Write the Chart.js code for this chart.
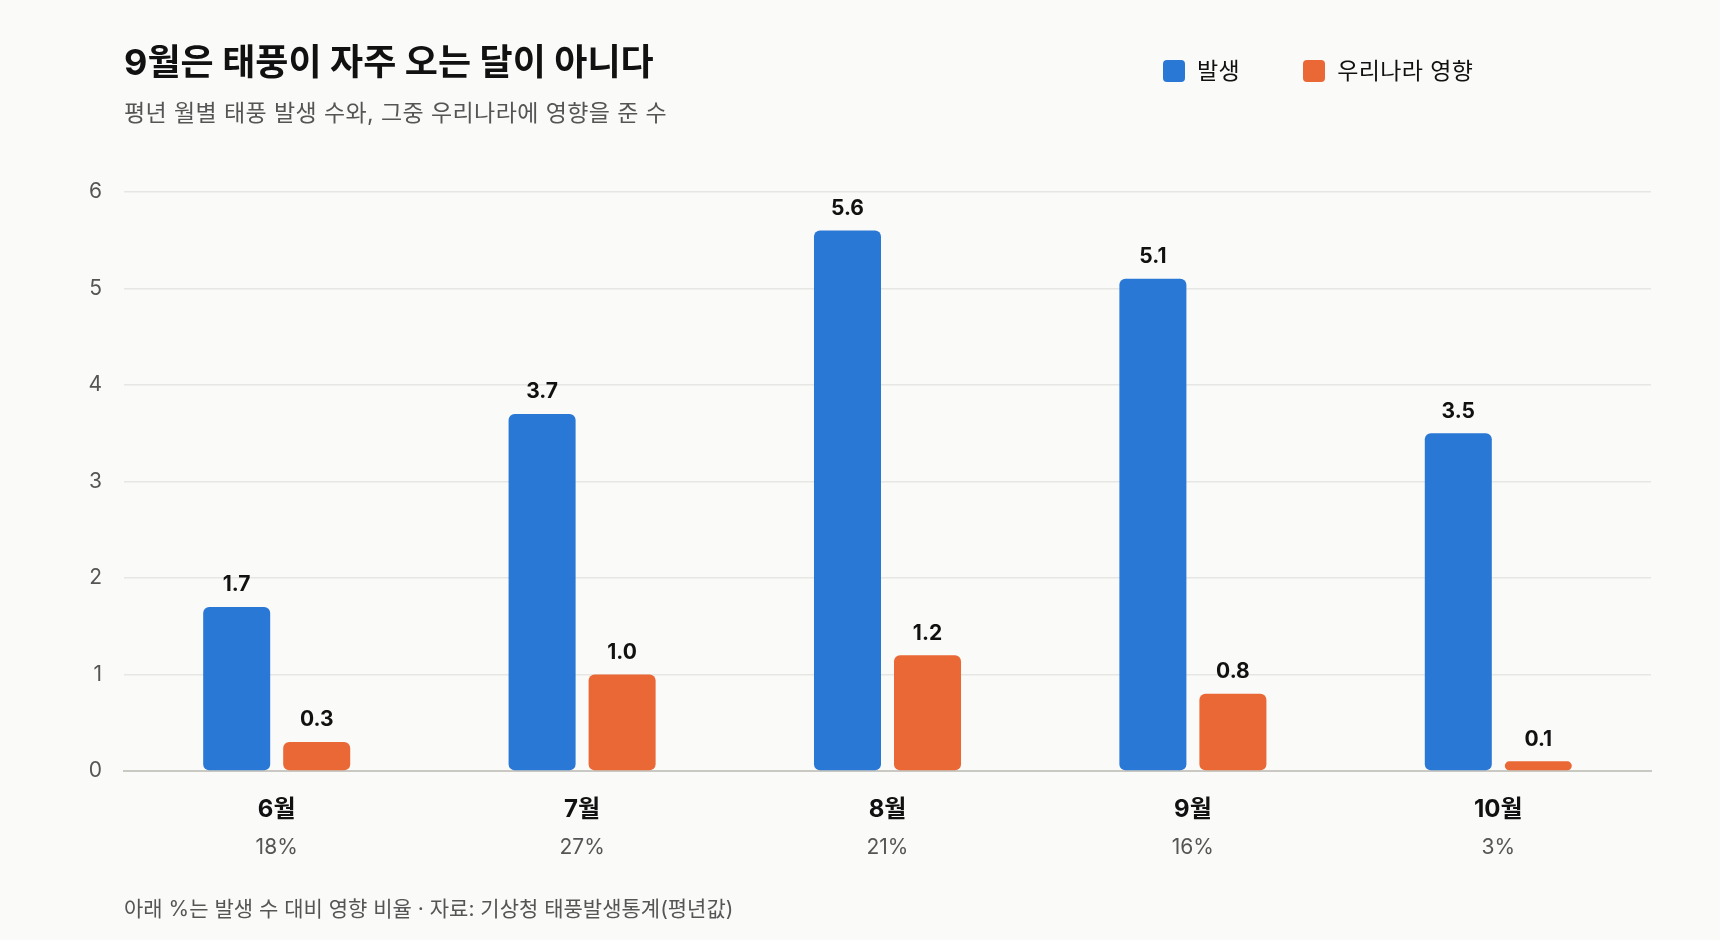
<!DOCTYPE html>
<html lang="ko">
<head>
<meta charset="utf-8">
<script src="https://cdn.jsdelivr.net/npm/chart.js@4"></script>
<style>
  html, body { margin:0; padding:0; background:#fafaf8; }
  body { width:1720px; height:940px; position:relative; overflow:hidden;
         font-family: Inter, "Noto Sans CJK KR", sans-serif; }
  #wrap { position:absolute; left:0; top:0; width:1720px; height:940px; }
  .title { position:absolute; left:124px; top:37px; font-size:36px; font-weight:700; color:#111;
           line-height:50px; white-space:nowrap; }
  .subtitle { position:absolute; left:124px; top:98px; font-size:23px; letter-spacing:0.4px; color:#555; line-height:30px; white-space:nowrap; }
  .legend { position:absolute; left:1163px; top:55px; display:flex; align-items:center; font-size:23px; letter-spacing:0.4px; color:#111; line-height:32px; }
  .legend .item { display:flex; align-items:center; margin-right:63px; }
  .legend .sw { width:22px; height:22px; border-radius:4px; margin-right:12px; }
  .footer { position:absolute; left:124px; top:894px; font-size:21px; color:#555; line-height:30px; white-space:nowrap; }
</style>
</head>
<body>
<div id="wrap"><canvas id="c" width="1720" height="940"></canvas></div>
<div class="title">9월은 태풍이 자주 오는 달이 아니다</div>
<div class="subtitle">평년 월별 태풍 발생 수와, 그중 우리나라에 영향을 준 수</div>
<div class="legend" id="legend"></div>
<div class="footer">아래 %는 발생 수 대비 영향 비율 · 자료: 기상청 태풍발생통계(평년값)</div>
<script>
const months = ["6월", "7월", "8월", "9월", "10월"];
const occurred = [1.7, 3.7, 5.6, 5.1, 3.5];
const affected = [0.3, 1.0, 1.2, 0.8, 0.1];
const ratioLabels = ["18%", "27%", "21%", "16%", "3%"];
const seriesNames = ["발생", "우리나라 영향"];
const seriesColors = ["#2a78d6", "#ea6835"];
const yTicks = [0, 1, 2, 3, 4, 5, 6];

// HTML legend built from series arrays
const lg = document.getElementById('legend');
seriesNames.forEach((n, i) => {
  const it = document.createElement('div'); it.className = 'item';
  const sw = document.createElement('span'); sw.className = 'sw'; sw.style.background = seriesColors[i];
  const tx = document.createElement('span'); tx.textContent = n;
  it.appendChild(sw); it.appendChild(tx); lg.appendChild(it);
});

const FONT = 'Inter, "Noto Sans CJK KR", sans-serif';

const valueLabels = {
  id: 'valueLabels',
  afterDatasetsDraw(chart) {
    const ctx = chart.ctx;
    ctx.save();
    ctx.font = '700 21px ' + FONT;
    ctx.fillStyle = '#111';
    ctx.textAlign = 'center';
    ctx.textBaseline = 'middle';
    chart.data.datasets.forEach((ds, di) => {
      chart.getDatasetMeta(di).data.forEach((bar, i) => {
        ctx.fillText(ds.data[i].toFixed(1), bar.x, bar.y - 22);
      });
    });
    ctx.restore();
  }
};

const ratioRow = {
  id: 'ratioRow',
  afterDraw(chart) {
    const ctx = chart.ctx;
    const xs = chart.scales.x;
    ctx.save();
    ctx.font = '400 21px ' + FONT;
    ctx.fillStyle = '#555';
    ctx.textAlign = 'center';
    ctx.textBaseline = 'middle';
    ratioLabels.forEach((t, i) => {
      ctx.fillText(t, xs.getPixelForTick(i), 848);
    });
    ctx.restore();
  }
};

new Chart(document.getElementById('c'), {
  type: 'bar',
  data: {
    labels: months,
    datasets: [
      { label: seriesNames[0], data: occurred, backgroundColor: seriesColors[0] },
      { label: seriesNames[1], data: affected, backgroundColor: seriesColors[1] }
    ]
  },
  options: {
    responsive: false,
    animation: false,
    devicePixelRatio: 1,
    layout: { padding: { top: 192, right: 69, bottom: 0, left: 0 } },
    datasets: {
      bar: {
        categoryPercentage: 0.524,
        barPercentage: 0.8375,
        borderRadius: 6,
        borderSkipped: false
      }
    },
    plugins: {
      legend: { display: false },
      title: { display: false },
      tooltip: { enabled: false }
    },
    scales: {
      x: {
        grid: { display: false, drawTicks: false },
        border: { display: true, color: '#c9c8c2', width: 2 },
        ticks: { color: '#111', font: { family: FONT, size: 24, weight: '700' }, padding: 24 },
        afterFit(s) { s.height = 169; }
      },
      y: {
        min: 0, max: 6,
        afterBuildTicks(s) { s.ticks = yTicks.map(v => ({ value: v })); },
        grid: { color: '#e6e6e3', lineWidth: 1.5, drawTicks: false },
        border: { display: false },
        ticks: { color: '#555', font: { family: FONT, size: 21 }, padding: 22 },
        afterFit(s) { s.width = 124; }
      }
    }
  },
  plugins: [valueLabels, ratioRow]
});
</script>
</body>
</html>
